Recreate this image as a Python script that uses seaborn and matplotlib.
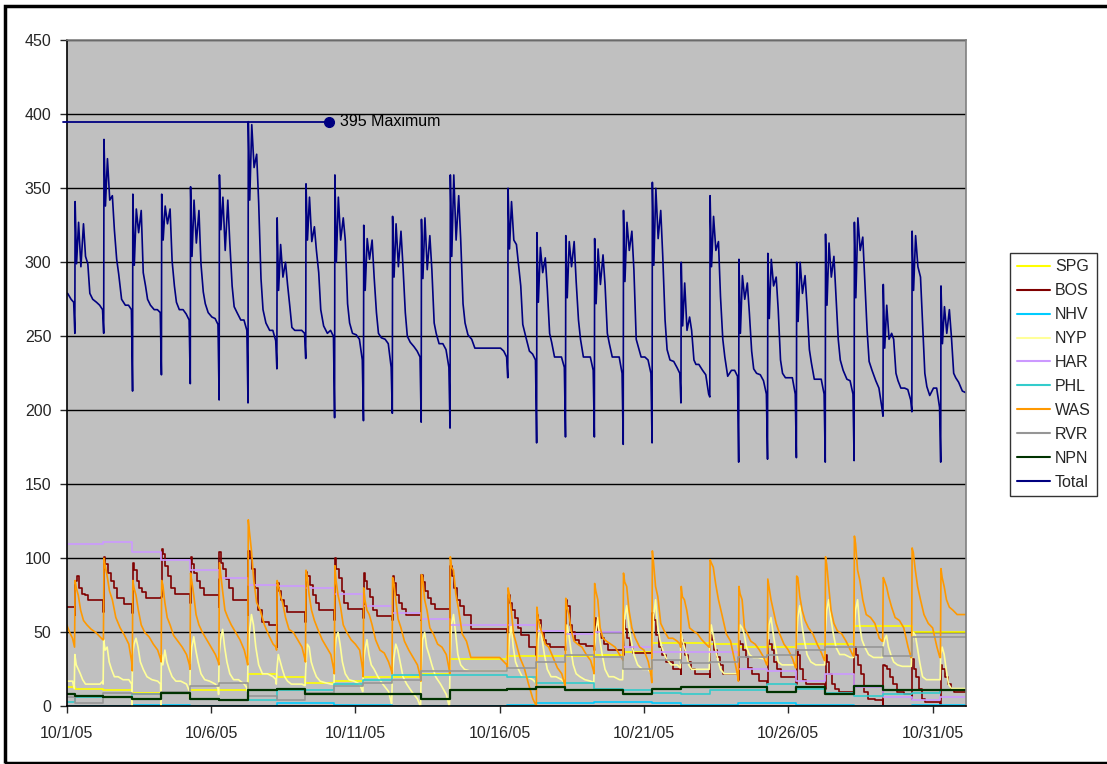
import matplotlib
matplotlib.use("Agg")
import matplotlib.pyplot as plt
from matplotlib.patches import Rectangle
import pandas as pd
import seaborn as sns

# ---------------------------------------------------------------------------
# Data (x = days after 10/1/05 00:00)
# ---------------------------------------------------------------------------
series_names = ["SPG", "BOS", "NHV", "NYP", "HAR", "PHL", "WAS", "RVR", "NPN", "Total"]
series_colors = ["#FFFF00", "#800000", "#00CCFF", "#FFFF99", "#CC99FF",
                 "#33CCCC", "#FF9900", "#969696", "#003300", "#000080"]

date_ticks = [0, 5, 10, 15, 20, 25, 30]
date_labels = ["10/1/05", "10/6/05", "10/11/05", "10/16/05", "10/21/05", "10/26/05", "10/31/05"]
y_ticks = [0, 50, 100, 150, 200, 250, 300, 350, 400, 450]

# Total: morning low, three peaks, then the afternoon/evening decline
total_offsets = [0.28, 0.29, 0.34, 0.41, 0.49, 0.58, 0.65, 0.73, 0.80, 0.90, 1.03, 1.14, 1.24]
total_start_t = [0.03, 0.15, 0.24]
total_start_v = [279, 275, 273]
total_rows = [
    [252, 341, 299, 327, 297, 326, 304, 299, 279, 275, 273, 271, 268],
    [252, 383, 338, 370, 342, 345, 322, 302, 292, 275, 271, 271, 268],
    [213, 346, 298, 336, 320, 335, 293, 284, 275, 271, 268, 268, 266],
    [224, 346, 315, 338, 326, 336, 301, 284, 273, 268, 268, 265, 261],
    [218, 351, 304, 342, 313, 335, 299, 280, 272, 266, 263, 262, 258],
    [207, 359, 322, 344, 308, 342, 313, 284, 270, 266, 261, 261, 254],
    [205, 395, 342, 393, 364, 373, 340, 289, 268, 259, 254, 254, 247],
    [228, 330, 281, 312, 290, 300, 285, 270, 256, 254, 254, 254, 252],
    [235, 353, 315, 344, 314, 324, 308, 293, 268, 257, 252, 254, 250],
    [195, 359, 300, 344, 315, 330, 315, 272, 259, 252, 251, 248, 234],
    [193, 325, 281, 316, 302, 315, 290, 266, 252, 249, 248, 245, 229],
    [198, 331, 290, 326, 297, 321, 297, 266, 250, 246, 243, 240, 236],
    [192, 329, 289, 330, 295, 318, 295, 259, 252, 245, 245, 241, 229],
    [188, 359, 304, 359, 315, 345, 315, 272, 259, 251, 248, 242, 242],
    [242, 242, 242, 242, 242, 242, 242, 242, 242, 242, 242, 240, 236],
    [222, 350, 309, 341, 315, 312, 299, 284, 258, 250, 240, 238, 234],
    [178, 320, 273, 310, 293, 303, 282, 252, 246, 236, 236, 236, 229],
    [182, 318, 276, 314, 297, 314, 287, 261, 248, 236, 236, 236, 227],
    [182, 316, 272, 309, 285, 305, 285, 252, 245, 236, 236, 236, 225],
    [177, 335, 287, 327, 308, 321, 295, 248, 243, 236, 236, 234, 225],
    [178, 354, 298, 350, 316, 335, 304, 261, 241, 234, 233, 229, 225],
    [205, 300, 257, 286, 254, 263, 254, 234, 231, 231, 227, 224, 211],
    [209, 345, 297, 331, 308, 314, 277, 248, 236, 223, 227, 227, 223],
    [165, 302, 252, 291, 275, 286, 266, 240, 228, 225, 224, 220, 211],
    [167, 306, 262, 302, 284, 290, 268, 234, 225, 222, 222, 222, 211],
    [168, 300, 260, 300, 279, 291, 270, 241, 232, 221, 221, 221, 211],
    [165, 319, 271, 313, 290, 304, 278, 248, 234, 227, 221, 220, 211],
    [166, 327, 276, 330, 308, 317, 287, 254, 233, 227, 220, 215, 202],
    [196, 285, 242, 271, 248, 252, 248, 225, 220, 215, 215, 214, 207],
    [199, 321, 281, 318, 297, 290, 259, 225, 216, 210, 215, 215, 202],
    [165, 284, 245, 270, 252, 268, 250, 225, 222, 219, 213, 212, 212],
]
total_max = 395
total_max_day = 9.08

# WAS: sharp morning rise then a slow decline
was_offsets = [0.27, 0.29, 0.33, 0.40, 0.48, 0.58, 0.70, 0.85, 1.00, 1.15, 1.25]
was_start_t = [0.0, 0.10, 0.20]
was_start_v = [55, 50, 46]
was_rows = [
    [40, 85, 80, 75, 65, 58, 55, 52, 50, 47, 45],
    [45, 100, 95, 88, 78, 72, 60, 53, 48, 42, 30],
    [24, 85, 80, 75, 65, 55, 50, 47, 42, 38, 32],
    [30, 85, 82, 70, 60, 55, 48, 44, 40, 35, 28],
    [25, 90, 85, 75, 62, 55, 50, 45, 40, 35, 30],
    [28, 97, 90, 78, 65, 60, 55, 50, 45, 38, 30],
    [28, 126, 118, 105, 85, 70, 65, 55, 48, 42, 40],
    [38, 85, 82, 75, 70, 60, 52, 50, 45, 40, 32],
    [30, 92, 88, 75, 65, 58, 52, 45, 40, 35, 25],
    [22, 95, 85, 75, 68, 55, 50, 45, 42, 38, 25],
    [20, 80, 72, 65, 62, 55, 45, 38, 36, 30, 24],
    [22, 87, 84, 72, 59, 53, 44, 38, 33, 28, 20],
    [17, 89, 87, 72, 65, 53, 49, 42, 40, 35, 25],
    [22, 101, 94, 92, 76, 65, 49, 44, 33, 33, 33],
    [33, 33, 33, 33, 33, 33, 33, 33, 33, 30, 28],
    [26, 80, 76, 65, 49, 42, 33, 26, 15, 5, 1],
    [0, 67, 60, 53, 49, 42, 40, 33, 26, 22, 15],
    [13, 73, 67, 62, 51, 44, 42, 40, 35, 31, 24],
    [22, 83, 78, 72, 53, 46, 44, 42, 40, 35, 32],
    [31, 90, 84, 81, 65, 53, 46, 40, 38, 30, 20],
    [16, 105, 97, 81, 74, 56, 51, 46, 46, 44, 42],
    [40, 81, 74, 72, 65, 53, 51, 49, 45, 42, 40],
    [40, 99, 97, 94, 83, 72, 62, 49, 44, 30, 20],
    [17, 81, 76, 72, 53, 49, 44, 42, 38, 33, 28],
    [28, 86, 81, 72, 65, 56, 49, 42, 38, 32, 26],
    [26, 88, 87, 74, 65, 58, 53, 49, 42, 36, 31],
    [31, 101, 96, 81, 65, 56, 51, 49, 44, 38, 34],
    [34, 115, 110, 92, 85, 72, 62, 60, 56, 46, 44],
    [44, 87, 85, 81, 74, 67, 60, 58, 53, 40, 33],
    [33, 107, 104, 92, 81, 72, 62, 56, 53, 40, 33],
    [33, 93, 87, 81, 72, 67, 65, 62, 62, 62, 62],
]

# BOS: stepped decline after each morning peak
bos_offsets = [0.27, 0.29, 0.34, 0.42, 0.52, 0.62, 0.75, 1.00, 1.25]
bos_start_t = [0.0]
bos_start_v = [67]
bos_rows = [
    [62, 85, 88, 80, 76, 75, 72, 72, 72],
    [64, 101, 96, 90, 85, 80, 73, 69, 69],
    [63, 97, 92, 85, 80, 77, 73, 73, 73],
    [74, 106, 103, 95, 88, 80, 76, 76, 76],
    [70, 101, 96, 90, 85, 80, 75, 75, 75],
    [67, 104, 97, 93, 86, 80, 72, 72, 72],
    [62, 105, 100, 93, 80, 65, 57, 55, 55],
    [40, 83, 78, 72, 68, 64, 64, 64, 64],
    [57, 91, 88, 82, 75, 70, 65, 65, 65],
    [58, 100, 93, 87, 78, 70, 66, 66, 66],
    [60, 90, 85, 79, 74, 65, 61, 61, 61],
    [58, 88, 83, 75, 70, 66, 62, 62, 62],
    [58, 89, 84, 78, 73, 69, 66, 66, 66],
    [60, 95, 88, 80, 72, 68, 62, 52, 52],
    [52, 52, 52, 52, 52, 52, 52, 52, 52],
    [50, 75, 70, 65, 60, 53, 48, 40, 40],
    [35, 62, 58, 50, 45, 42, 40, 40, 40],
    [38, 72, 68, 55, 50, 45, 42, 41, 41],
    [38, 60, 55, 50, 46, 42, 38, 38, 38],
    [35, 58, 52, 46, 40, 36, 36, 36, 36],
    [33, 63, 58, 48, 40, 35, 30, 25, 25],
    [22, 45, 42, 35, 30, 25, 22, 22, 22],
    [20, 48, 45, 38, 33, 28, 22, 22, 22],
    [18, 44, 42, 38, 33, 26, 22, 17, 17],
    [15, 45, 42, 38, 30, 25, 20, 20, 20],
    [15, 38, 35, 25, 18, 15, 15, 15, 15],
    [12, 35, 30, 22, 15, 12, 10, 10, 10],
    [8, 40, 35, 28, 22, 10, 5, 4, 4],
    [0, 28, 27, 25, 20, 15, 10, 8, 8],
    [5, 32, 25, 20, 12, 5, 3, 3, 0],
    [0, 28, 25, 20, 15, 12, 10, 10, 10],
]

# NYP: midday hump
nyp_offsets = [0.26, 0.28, 0.33, 0.40, 0.47, 0.55, 0.65, 0.78, 0.95, 1.15, 1.25]
nyp_start_t = [0.0, 0.20]
nyp_start_v = [17, 17]
nyp_rows = [
    [12, 35, 28, 25, 22, 18, 15, 15, 15, 15, 17],
    [15, 45, 38, 40, 30, 25, 20, 20, 18, 18, 15],
    [0, 35, 42, 46, 40, 30, 25, 20, 18, 17, 15],
    [0, 35, 28, 38, 30, 25, 20, 17, 17, 15, 10],
    [5, 28, 40, 47, 38, 30, 22, 18, 17, 15, 12],
    [8, 35, 45, 52, 40, 30, 22, 18, 18, 15, 12],
    [10, 30, 50, 62, 55, 40, 28, 22, 22, 20, 18],
    [15, 25, 35, 30, 25, 20, 17, 15, 15, 15, 14],
    [14, 25, 42, 40, 30, 25, 20, 17, 16, 15, 15],
    [15, 35, 46, 50, 42, 30, 22, 18, 17, 15, 10],
    [10, 30, 38, 45, 35, 28, 25, 20, 15, 10, 2],
    [2, 20, 32, 42, 38, 30, 20, 15, 10, 5, 0],
    [0, 25, 45, 50, 40, 35, 28, 20, 15, 8, 0],
    [0, 30, 55, 62, 50, 35, 28, 25, 24, 24, 24],
    [24, 24, 24, 24, 24, 24, 24, 24, 24, 24, 24],
    [24, 28, 45, 55, 40, 30, 25, 20, 20, 18, 16],
    [16, 20, 45, 55, 45, 35, 25, 20, 20, 18, 16],
    [16, 35, 55, 48, 38, 28, 22, 20, 18, 17, 16],
    [16, 35, 50, 60, 45, 35, 25, 20, 20, 18, 18],
    [18, 35, 60, 68, 55, 45, 35, 28, 25, 25, 22],
    [22, 40, 60, 72, 55, 45, 38, 32, 28, 28, 26],
    [26, 50, 45, 40, 35, 28, 25, 25, 25, 25, 25],
    [25, 40, 55, 48, 40, 32, 25, 22, 22, 22, 22],
    [22, 45, 55, 53, 49, 40, 35, 33, 33, 32, 30],
    [30, 40, 55, 60, 50, 40, 30, 28, 28, 28, 28],
    [28, 45, 60, 68, 55, 45, 35, 30, 28, 28, 28],
    [28, 50, 65, 72, 60, 50, 40, 35, 35, 33, 33],
    [33, 50, 65, 72, 55, 45, 40, 35, 33, 33, 33],
    [33, 40, 45, 48, 40, 35, 30, 28, 27, 27, 27],
    [27, 40, 50, 48, 40, 30, 20, 18, 18, 18, 18],
    [18, 35, 40, 35, 25, 15, 12, 12, 12, 12, 12],
]

# Slowly changing series: value before the first morning change, then one value per day
change_offset = 0.27
spg_daily = [13, 12, 11, 9, 9, 11, 11, 22, 20, 16, 17, 20, 20, 22, 32, 32, 34, 34, 34, 35,
             37, 43, 43, 42, 40, 40, 42, 42, 54, 54, 50, 50]
nhv_daily = [0, 0, 0, 1, 1, 0, 0, 0, 2, 2, 1, 1, 0, 0, 0, 0, 1, 2, 2, 3,
             3, 2, 1, 1, 2, 2, 1, 1, 0, 0, 1, 1]
har_daily = [110, 110, 111, 104, 99, 92, 87, 82, 81, 80, 76, 68, 63, 59, 55, 55, 55, 51, 49,
             50, 40, 37, 37, 37, 25, 24, 17, 22, 13, 6, 4, 6]
phl_daily = [3, 6, 6, 8, 9, 5, 4, 4, 11, 11, 15, 18, 21, 21, 21, 21, 20, 16, 16, 12,
             11, 9, 8, 11, 11, 15, 12, 9, 7, 8, 9, 11]
rvr_daily = [6, 2, 9, 8, 10, 14, 16, 7, 4, 9, 14, 16, 18, 24, 24, 24, 26, 30, 35, 33,
             25, 31, 29, 30, 33, 35, 38, 40, 40, 34, 47, 47]
npn_daily = [8, 7, 6, 5, 9, 5, 4.5, 11, 12, 8, 8, 8, 8, 5, 11, 11, 12, 13, 11, 11,
             8, 12, 13, 13, 13, 10, 13, 8, 14, 11, 11, 11]


# ---------------------------------------------------------------------------
# Helpers that turn the per-day rows into (day, value) frames
# ---------------------------------------------------------------------------
def cyclic_frame(start_t, start_v, offsets, rows):
    t = list(start_t)
    v = list(start_v)
    for day, row in enumerate(rows):
        for off, val in zip(offsets, row):
            t.append(day + off)
            v.append(val)
    return pd.DataFrame({"day": t, "value": v})


def daily_frame(values):
    t = [0.0] + [d + change_offset for d in range(len(values) - 1)]
    v = list(values)
    t.append(len(values) - 1 + 0.6)
    v.append(values[-1])
    return pd.DataFrame({"day": t, "value": v})


frames = {
    "SPG": (daily_frame(spg_daily), "steps-post"),
    "BOS": (cyclic_frame(bos_start_t, bos_start_v, bos_offsets, bos_rows), "steps-post"),
    "NHV": (daily_frame(nhv_daily), "steps-post"),
    "NYP": (cyclic_frame(nyp_start_t, nyp_start_v, nyp_offsets, nyp_rows), "default"),
    "HAR": (daily_frame(har_daily), "steps-post"),
    "PHL": (daily_frame(phl_daily), "steps-post"),
    "WAS": (cyclic_frame(was_start_t, was_start_v, was_offsets, was_rows), "default"),
    "RVR": (daily_frame(rvr_daily), "steps-post"),
    "NPN": (daily_frame(npn_daily), "steps-post"),
    "Total": (cyclic_frame(total_start_t, total_start_v, total_offsets, total_rows), "default"),
}

# ---------------------------------------------------------------------------
# Figure
# ---------------------------------------------------------------------------
sns.set_style("white")
plt.rcParams["font.family"] = ["Liberation Sans", "DejaVu Sans"]
plt.rcParams["font.size"] = 11.5

fig = plt.figure(figsize=(11.07, 7.64), dpi=100)
ax = fig.add_axes([0.0603, 0.0755, 0.8119, 0.8718])
ax.set_facecolor("#C0C0C0")

for name, color in zip(series_names, series_colors):
    df, style = frames[name]
    lw = 1.6 if name in ("NPN",) else 1.2
    sns.lineplot(data=df, x="day", y="value", ax=ax, color=color, label=name,
                 estimator=None, sort=False, drawstyle=style, linewidth=lw)

# Maximum marker
ax.plot([-0.13, total_max_day], [total_max, total_max], color="#000080", lw=1.3,
        clip_on=False, zorder=5)
ax.plot([total_max_day], [total_max], "o", color="#000080", ms=7, zorder=6)
ax.text(total_max_day + 0.38, total_max, f"{total_max} Maximum", va="center", ha="left",
        fontsize=11.5, color="black")

# Axes, grid and ticks
ax.set_xlim(0, 31.14)
ax.set_ylim(0, 450)
ax.set_yticks(y_ticks)
ax.set_xticks(date_ticks)
ax.set_xticklabels(date_labels)
ax.yaxis.grid(True, color="black", linewidth=1)
ax.xaxis.grid(False)
ax.set_axisbelow(True)
ax.set_xlabel("")
ax.set_ylabel("")
ax.tick_params(axis="y", direction="out", length=5, width=1, pad=6, left=True, labelsize=11.5)
ax.tick_params(axis="x", direction="out", length=5, width=1, pad=9, bottom=True, labelsize=11.5)
for side in ("left", "bottom"):
    ax.spines[side].set_color("black")
    ax.spines[side].set_linewidth(1.2)
for side in ("top", "right"):
    ax.spines[side].set_color("#808080")
    ax.spines[side].set_linewidth(1.2)

# Legend at the right
handles, labels = ax.get_legend_handles_labels()
ax.get_legend().remove()
leg = fig.legend(handles, labels, loc="center", bbox_to_anchor=(0.952, 0.5098),
                 frameon=True, fancybox=False, edgecolor="black", fontsize=11.5,
                 handlelength=2.1, handletextpad=0.3, labelspacing=0.56, borderpad=0.4,
                 borderaxespad=0)
leg.get_frame().set_linewidth(1.0)
for h in leg.get_lines():
    h.set_linewidth(1.5)

# Chart border
fig.patches.append(Rectangle((5 / 1107, 1.5 / 764), 1.2, 756.8 / 764, transform=fig.transFigure,
                             fill=False, edgecolor="black", linewidth=2.5))

fig.savefig("out.png", dpi=100, facecolor="white")
